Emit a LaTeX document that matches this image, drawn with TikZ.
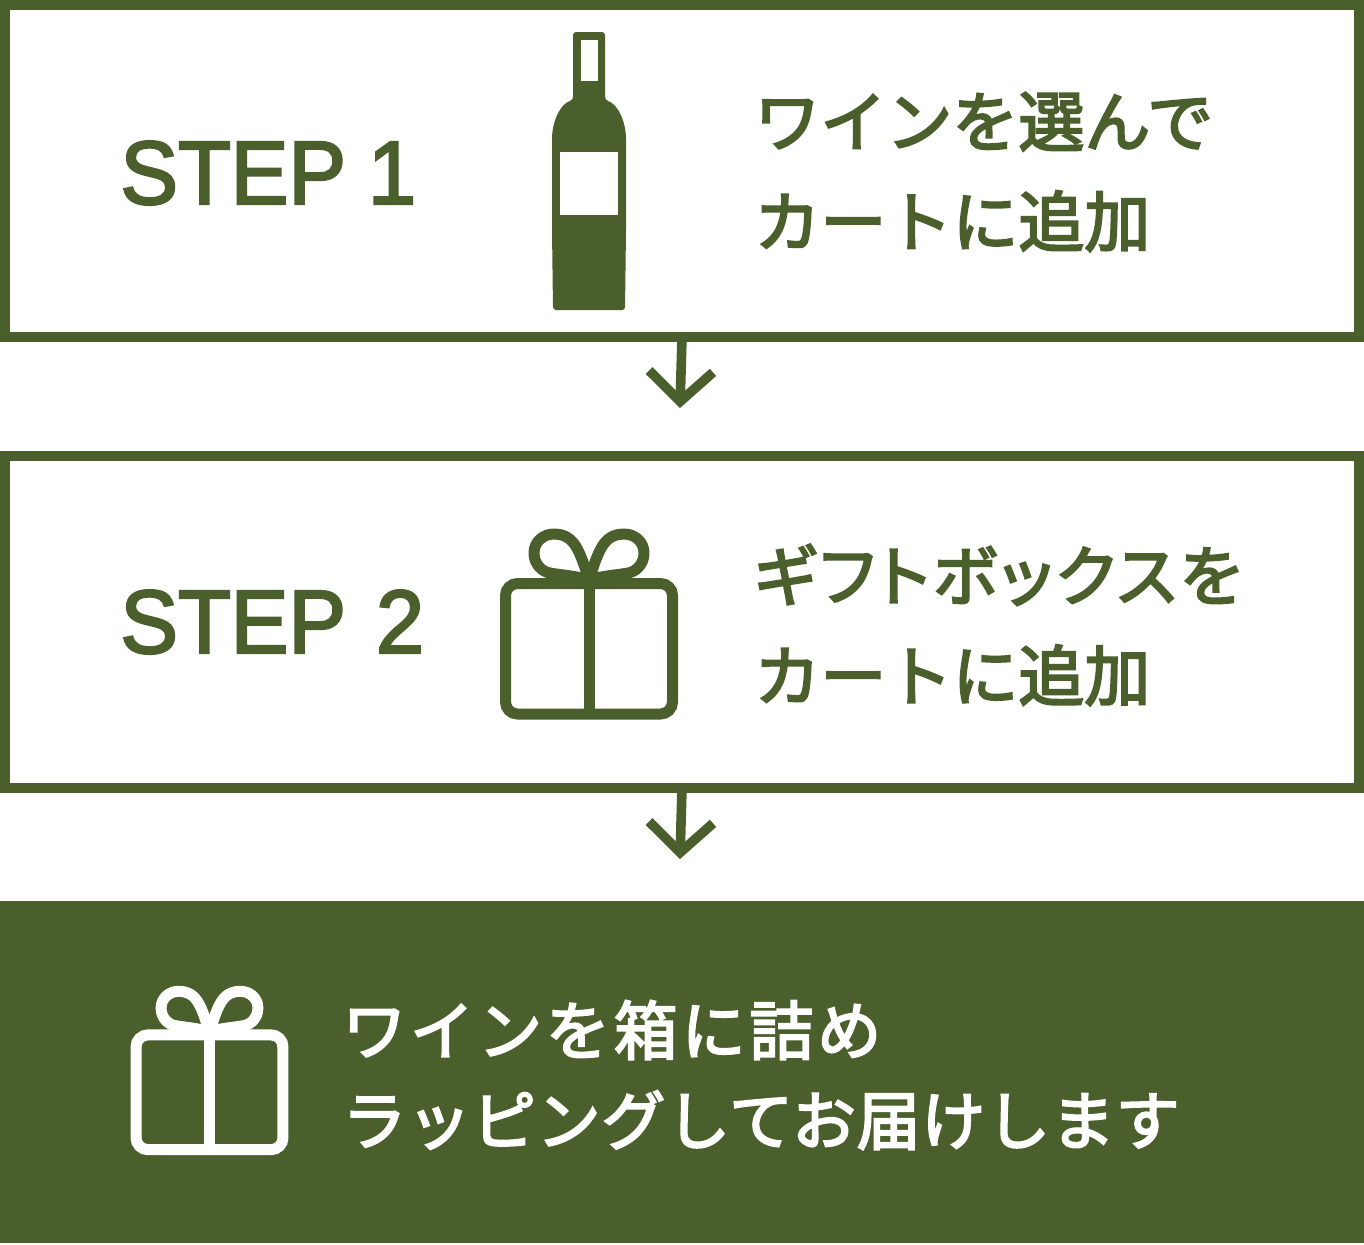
\documentclass[tikz,border=0pt]{standalone}
\usepackage{fontspec}
\usetikzlibrary{arrows.meta}
\setmainfont[FakeBold=2.6,FakeStretch=0.96]{Liberation Sans}
\newfontfamily\jpfont[FakeBold=3.2]{Noto Sans CJK JP}
\newfontfamily\jppalt[FakeBold=3.2,RawFeature=+palt,LetterSpace=5.6]{Noto Sans CJK JP}
\newfontfamily\jpwide[FakeBold=3.2,LetterSpace=6]{Noto Sans CJK JP}
\newfontfamily\jpmid[FakeBold=3.2,LetterSpace=1.2]{Noto Sans CJK JP}
\definecolor{wine}{HTML}{4A5F2C}
\tikzset{
  x=0.5pt,y=-0.5pt,
  frame/.style={draw=wine,line width=5pt,fill=white,minimum width=677pt,minimum height=166pt,inner sep=0pt,anchor=north west,outer sep=0pt},
  solidbox/.style={fill=wine,minimum width=682pt,minimum height=171pt,inner sep=0pt,anchor=north west},
  steplabel/.style={text=wine,font=\fontsize{45}{45}\selectfont,anchor=base west,inner sep=0pt},
  jptext/.style={text=wine,font=\jpfont\fontsize{33}{50}\selectfont,align=left,anchor=west,inner sep=0pt},
  flowarrow/.style={draw=wine,line width=4.8pt,-{Straight Barb[length=15pt,width=32pt,line width=4.8pt]}},
  pics/giftbox/.style={code={
    \draw[line width=5.5pt,rounded corners=6pt] (-83.5,5.5) -- (83.5,5.5) -- (83.5,136) -- (-83.5,136) -- cycle;
    \draw[line width=5.5pt] (0,5.5) -- (0,136);
    \draw[line width=5.5pt,line join=round]
      (0,2) .. controls (-4,-10) and (-8,-24) .. (-14,-33)
      .. controls (-20,-42) and (-28,-44) .. (-35,-44)
      .. controls (-46,-44) and (-55,-36) .. (-55,-25)
      .. controls (-55,-13) and (-46,-6) .. (-39,-5)
      .. controls (-28,-3) and (-12,-2) .. (0,2) -- cycle;
    \draw[line width=5.5pt,line join=round]
      (0,2) .. controls (4,-10) and (8,-24) .. (14,-33)
      .. controls (20,-42) and (28,-44) .. (35,-44)
      .. controls (46,-44) and (55,-36) .. (55,-25)
      .. controls (55,-13) and (46,-6) .. (39,-5)
      .. controls (28,-3) and (12,-2) .. (0,2) -- cycle;
  }}
}
\begin{document}
\begin{tikzpicture}
\useasboundingbox (0,0) rectangle (1364,1244);
\node[frame] (box1) at (5,5) {};
\node[frame] (box2) at (5,456) {};
\node[solidbox] (box3) at (0,901) {};
\coordinate (tip1) at (680,408);
\coordinate (tip2) at (680,859);
\draw[flowarrow] (box1.south) -- (tip1);
\draw[flowarrow] (box2.south) -- (tip2);
\node[steplabel] (s1) at (120,204) {STEP\kern -1pt\ 1};
\node[steplabel] (s2) at (120,653) {STEP\kern 3pt\ 2};
% bottle
\fill[wine,rounded corners=1.5pt] (573,32) -- (605,32) -- (605,100)
  .. controls (618,104) and (626,122) .. (626,142) -- (626,230) -- (625,310)
  -- (553,310) -- (552,230) -- (552,142)
  .. controls (552,122) and (560,104) .. (573,100) -- cycle;
\fill[white] (581,40) rectangle (597.5,81);
\fill[white] (560.3,152.3) rectangle (617.7,214.7);
\node[jptext] (t1) at (754,172) {ワインを選んで\\カートに追加};
\node[jptext] (t2) at (754,625) {{\jppalt ギフトボックスを}\\カートに追加};
\pic[wine] at (589,578) {giftbox};
\pic[white,scale=0.88] at (209.5,1030) {giftbox};
\node[jptext,text=white,font=\jpwide\fontsize{32}{45}\selectfont] (t3) at (342,1075) {ワインを箱に詰め\\{\jpmid ラッピングしてお届けします}};
\end{tikzpicture}
\end{document}
